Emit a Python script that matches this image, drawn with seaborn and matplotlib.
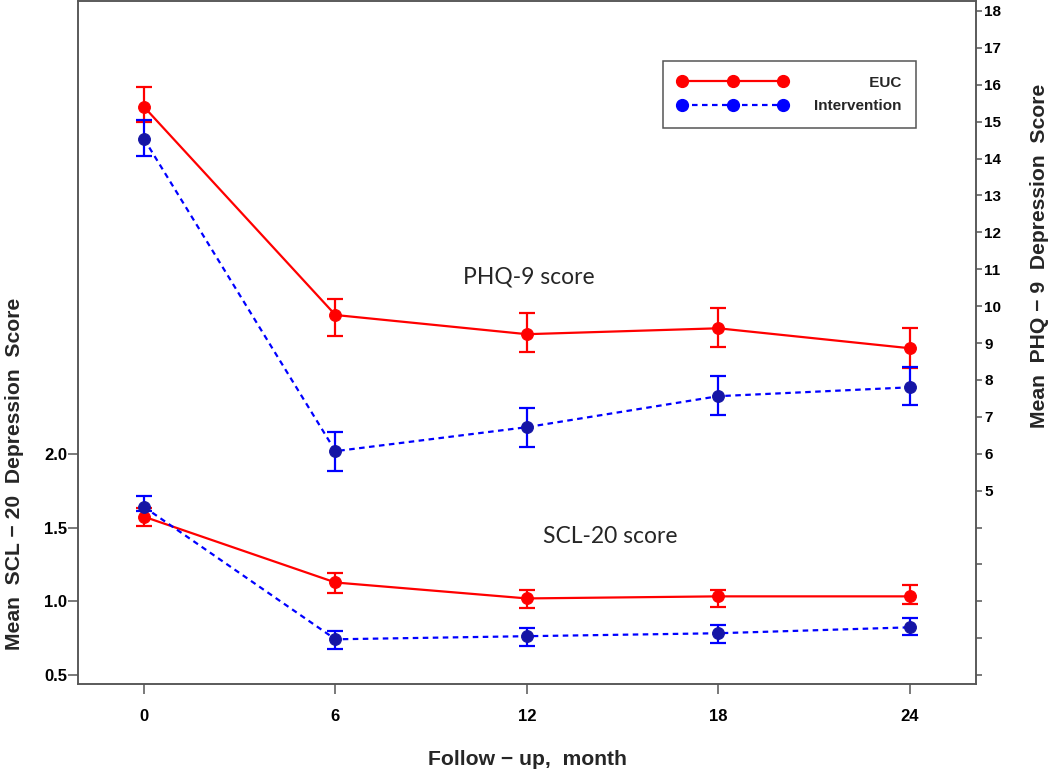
import numpy as np
import pandas as pd
import seaborn as sns
import matplotlib.pyplot as plt
import matplotlib.ticker as ticker
from matplotlib.lines import Line2D

# follow-up months
months = [0, 6, 12, 18, 24]

# PHQ-9 (right axis): mean and CI bounds
phq_euc = [15.40, 9.76, 9.24, 9.40, 8.86]
phq_euc_lo = [14.99, 9.19, 8.75, 8.89, 8.33]
phq_euc_hi = [15.93, 10.20, 9.81, 9.95, 9.40]
phq_int = [14.53, 6.07, 6.72, 7.56, 7.80]
phq_int_lo = [14.07, 5.53, 6.18, 7.05, 7.32]
phq_int_hi = [15.04, 6.59, 7.24, 8.10, 8.35]

# SCL-20 (left axis): mean and CI bounds
scl_euc = [1.574, 1.128, 1.020, 1.034, 1.034]
scl_euc_lo = [1.510, 1.060, 0.953, 0.960, 0.980]
scl_euc_hi = [1.635, 1.190, 1.074, 1.080, 1.110]
scl_int = [1.640, 0.743, 0.764, 0.784, 0.824]
scl_int_lo = [1.610, 0.680, 0.700, 0.720, 0.770]
scl_int_hi = [1.716, 0.800, 0.820, 0.840, 0.890]

groups = ["EUC", "Intervention"]
left_ticks = [0.5, 1.0, 1.5, 2.0]
right_ticks = list(range(0, 19))

sns.set_style("ticks")
plt.rcParams["font.family"] = ["Liberation Sans", "DejaVu Sans"]

line_color = {"EUC": "#ff0000", "Intervention": "#0000ff"}
dot_color = {"EUC": "#ff0000", "Intervention": "#1515a5"}
line_style = {"EUC": "-", "Intervention": (0, (2.5, 2))}

fig = plt.figure(figsize=(10.5, 7.74), dpi=100)
ax = fig.add_axes([0.0743, 0.1163, 0.8552, 0.8824])
ax2 = ax.twinx()


def draw(axis, means, los, his):
    for g, m, lo, hi in zip(groups, means, los, his):
        df = pd.DataFrame({"month": months, "score": m})
        sns.lineplot(
            data=df, x="month", y="score", ax=axis, color=line_color[g],
            linewidth=1.6, linestyle=line_style[g], marker="o", markersize=8.5,
            markerfacecolor=dot_color[g], markeredgecolor=dot_color[g],
            errorbar=None, legend=False, zorder=3,
        )
        m, lo, hi = np.array(m), np.array(lo), np.array(hi)
        axis.errorbar(
            months, m, yerr=[m - lo, hi - m], fmt="none", ecolor=line_color[g],
            elinewidth=1.6, capsize=6, capthick=1.6, zorder=2,
        )


draw(ax, [scl_euc, scl_int], [scl_euc_lo, scl_int_lo], [scl_euc_hi, scl_int_hi])
draw(ax2, [phq_euc, phq_int], [phq_euc_lo, phq_int_lo], [phq_euc_hi, phq_int_hi])

ax.set_xlim(-2.07, 26.08)
ax.set_ylim(0.44, 5.07)
ax2.set_ylim(-0.24, 18.27)

ax.set_xticks(months)
ax.set_xticklabels([str(m) for m in months], fontweight="bold", fontsize=12)
ax.yaxis.set_major_locator(ticker.FixedLocator(left_ticks))
ax.yaxis.set_major_formatter(ticker.FormatStrFormatter("%.1f"))
ax2.yaxis.set_major_locator(ticker.FixedLocator(right_ticks))
ax2.yaxis.set_major_formatter(
    ticker.FuncFormatter(lambda v, p: f"{int(v)}" if v >= 5 else ""))

ax.tick_params(axis="x", length=7, width=1.1, pad=11, colors="#555555",
               labelcolor="black")
ax.tick_params(axis="y", length=7, width=1.1, pad=1, labelsize=12,
               colors="#555555", labelcolor="black")
ax2.tick_params(axis="y", length=4, width=1.1, pad=2, labelsize=11,
                colors="#555555", labelcolor="black")
for lab in ax.get_yticklabels() + ax2.get_yticklabels():
    lab.set_fontweight("bold")

for a in (ax, ax2):
    for s in a.spines.values():
        s.set_visible(True)
        s.set_color("#555555")
        s.set_linewidth(1.1)

ax.set_xlabel("Follow \u2212 up,  month", fontsize=15.2, fontweight="bold")
ax.xaxis.set_label_coords(0.5, -0.097)
ax.set_ylabel("Mean  SCL \u2212 20  Depression  Score", fontsize=15.2,
              fontweight="bold")
ax.yaxis.set_label_coords(-0.060, 0.307)
ax2.set_ylabel("Mean  PHQ \u2212 9  Depression  Score", fontsize=15.2,
               fontweight="bold", rotation=90)
ax2.yaxis.set_label_coords(1.060, 0.627)

ax2.text(12.07, 10.79, "PHQ-9 score", fontsize=16.5,
         family=["Lato", "DejaVu Sans"], ha="center", va="center")
ax2.text(14.6, 3.77, "SCL-20 score", fontsize=16.5,
         family=["Lato", "DejaVu Sans"], ha="center", va="center")

handles = [
    Line2D([], [], color=line_color[g], linestyle=line_style[g], linewidth=1.6,
           marker="o", markersize=8.5, markerfacecolor=line_color[g],
           markeredgecolor=line_color[g])
    for g in groups
]
# leading spaces push the short label to the right edge, as in the original
leg_labels = [" " * 13 + "EUC", "Intervention"]
leg = ax2.legend(
    handles, leg_labels, loc="upper right", bbox_to_anchor=(0.933, 0.912),
    borderaxespad=0, numpoints=3, handlelength=7.2, fancybox=False,
    edgecolor="#555555", framealpha=1, prop={"weight": "bold", "size": 11},
    borderpad=0.95, labelspacing=0.63, handletextpad=1.7,
)
leg.get_frame().set_linewidth(1.1)

fig.savefig("out.png", dpi=100)
